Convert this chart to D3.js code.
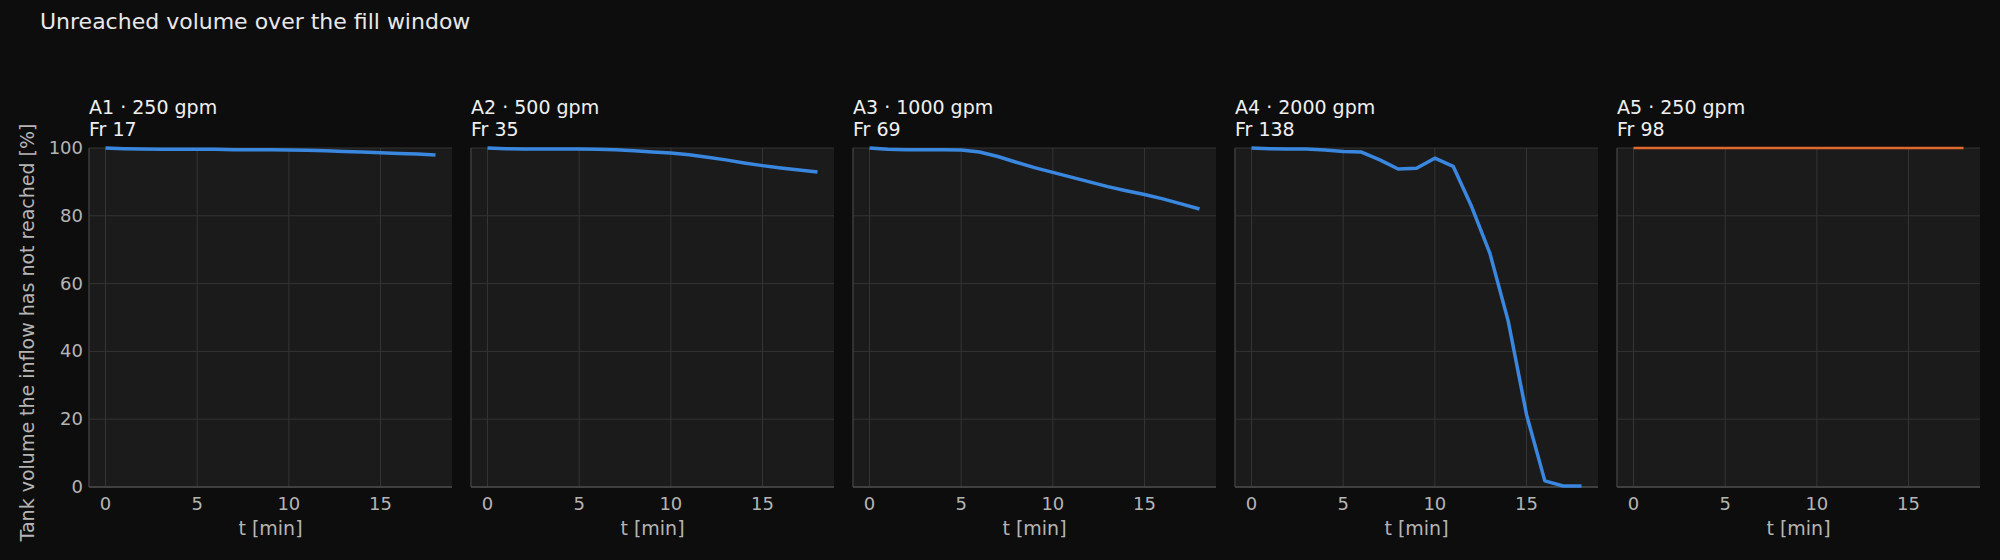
<!DOCTYPE html>
<html><head><meta charset="utf-8">
<script src="https://cdn.jsdelivr.net/npm/d3@7"></script>
<style>body{margin:0;background:#0d0d0d;}svg{display:block;font-family:"DejaVu Sans",sans-serif;}</style>
</head><body><svg id="chart" width="2000" height="560"></svg>
<script>
// ---------------- Data ----------------
const times = [0,1,2,3,4,5,6,7,8,9,10,11,12,13,14,15,16,17,18];
const panelTitles = ["A1 · 250 gpm","A2 · 500 gpm","A3 · 1000 gpm","A4 · 2000 gpm","A5 · 250 gpm"];
const panelSubs = ["Fr 17","Fr 35","Fr 69","Fr 138","Fr 98"];
const seriesA1 = [100,99.8,99.7,99.6,99.6,99.6,99.6,99.5,99.5,99.5,99.4,99.3,99.2,99.0,98.8,98.6,98.4,98.2,97.9];
const seriesA2 = [100,99.8,99.7,99.7,99.7,99.7,99.6,99.5,99.2,98.8,98.5,98.0,97.3,96.5,95.6,94.8,94.1,93.5,92.9];
const seriesA3 = [100,99.6,99.5,99.5,99.5,99.4,98.8,97.5,95.8,94.2,92.8,91.4,90.0,88.6,87.4,86.3,85.0,83.5,82.0];
const seriesA4 = [100,99.8,99.7,99.7,99.4,99.0,98.8,96.5,93.8,94.0,97.0,94.6,82.8,69.0,49.0,21.4,1.8,0.3,0.3];
const seriesA5 = [100,100,100,100,100,100,100,100,100,100,100,100,100,100,100,100,100,100,100];
const allSeries = [seriesA1,seriesA2,seriesA3,seriesA4,seriesA5];
const lineColors = ["#3a87e0","#3a87e0","#3a87e0","#3a87e0","#e0682f"];
const xTicks = [0,5,10,15];
const yTicks = [0,20,40,60,80,100];

const svg = d3.select("#chart");
const plotTop = 148, plotBottom = 487, pw = 363, step = 382, left0 = 89;

svg.append("text").attr("x", 40).attr("y", 29).attr("fill", "#e8e8e8")
  .attr("font-size", 22).text("Unreached volume over the fill window");

svg.append("text")
  .attr("transform", `translate(34,${(plotTop + plotBottom) / 2 + 15}) rotate(-90)`)
  .attr("text-anchor", "middle").attr("fill", "#b5b5b5").attr("font-size", 19)
  .text("Tank volume the inflow has not reached  [%]");

const y = d3.scaleLinear().domain([0, 100]).range([plotBottom, plotTop]);

allSeries.forEach((vals, i) => {
  const x0 = left0 + i * step;
  const x = d3.scaleLinear().domain([-0.9, 18.9]).range([x0, x0 + pw]);
  const g = svg.append("g");

  g.append("rect").attr("x", x0).attr("y", plotTop).attr("width", pw).attr("height", plotBottom - plotTop)
    .attr("fill", "#1b1b1b");

  // grid
  g.selectAll(".gx").data(xTicks).enter().append("line")
    .attr("x1", d => x(d)).attr("x2", d => x(d)).attr("y1", plotTop).attr("y2", plotBottom)
    .attr("stroke", "#343434").attr("stroke-width", 1);
  g.selectAll(".gy").data(yTicks).enter().append("line")
    .attr("x1", x0).attr("x2", x0 + pw).attr("y1", d => y(d)).attr("y2", d => y(d))
    .attr("stroke", "#343434").attr("stroke-width", 1);

  // spines
  g.append("line").attr("x1", x0).attr("x2", x0).attr("y1", plotTop).attr("y2", plotBottom)
    .attr("stroke", "#3c3c3c").attr("stroke-width", 1.5);
  g.append("line").attr("x1", x0).attr("x2", x0 + pw).attr("y1", plotBottom).attr("y2", plotBottom)
    .attr("stroke", "#4a4a4a").attr("stroke-width", 1.5);

  // x ticks
  g.selectAll(".tx").data(xTicks).enter().append("text")
    .attr("x", d => x(d)).attr("y", plotBottom + 23).attr("text-anchor", "middle")
    .attr("fill", "#b5b5b5").attr("font-size", 18).text(d => d);
  g.append("text").attr("x", x0 + pw / 2).attr("y", plotBottom + 48).attr("text-anchor", "middle")
    .attr("fill", "#b5b5b5").attr("font-size", 19).text("t [min]");

  if (i === 0) {
    g.selectAll(".ty").data(yTicks).enter().append("text")
      .attr("x", x0 - 6).attr("y", d => y(d) + 6).attr("text-anchor", "end")
      .attr("fill", "#b5b5b5").attr("font-size", 18).text(d => d);
  }

  g.append("text").attr("x", x0).attr("y", 114).attr("fill", "#f0f0f0").attr("font-size", 19)
    .text(panelTitles[i]);
  g.append("text").attr("x", x0).attr("y", 136).attr("fill", "#f0f0f0").attr("font-size", 19)
    .text(panelSubs[i]);

  const line = d3.line().x((d, k) => x(times[k])).y(d => y(d));
  g.append("path").datum(vals).attr("d", line).attr("fill", "none")
    .attr("stroke", lineColors[i]).attr("stroke-width", i === 4 ? 2.5 : 3.5)
    .attr("stroke-linejoin", "round");
});
</script></body></html>
